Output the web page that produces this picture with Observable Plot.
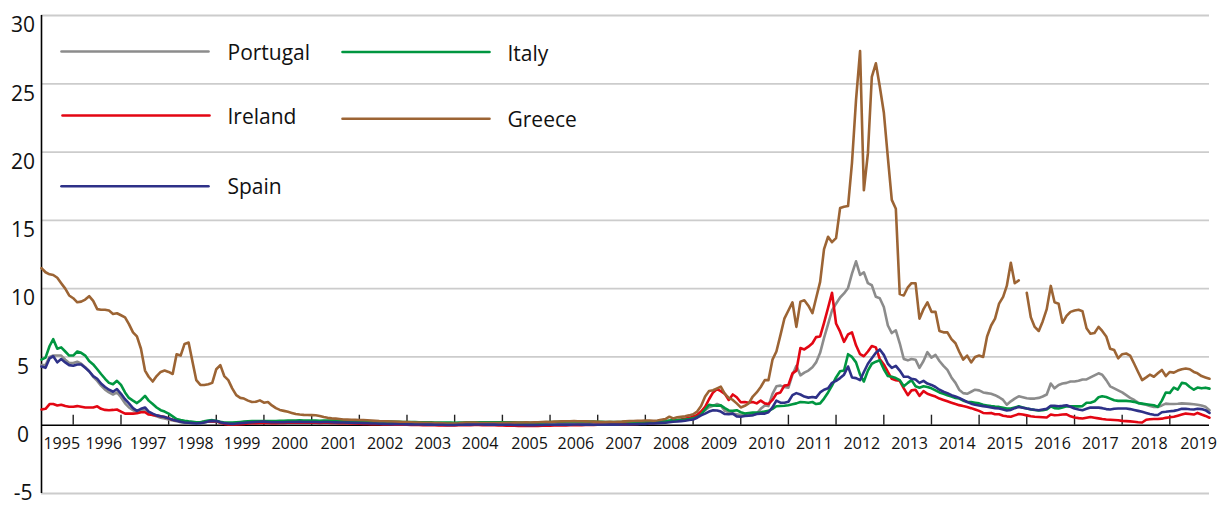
<!DOCTYPE html>
<html>
<head>
<meta charset="utf-8">
<script src="https://cdn.jsdelivr.net/npm/d3@7"></script>
<script src="https://cdn.jsdelivr.net/npm/@observablehq/plot@0.6"></script>
<style>
  html, body { margin: 0; padding: 0; background: #fff; }
  #chart { width: 1228px; height: 509px; }
</style>
</head>
<body>
<div id="chart"></div>
<script>
// Monthly values, Dec 1994 .. Jun 2019 (first value = Dec 1994, then one row per year)
const portugal = [4.4,
  4.4, 5.0, 5.1, 5.1, 5.1, 4.8, 4.55, 4.55, 4.65, 4.5, 4.25, 3.95,
  3.55, 3.25, 2.9, 2.6, 2.4, 2.25, 2.4, 2.05, 1.6, 1.3, 1.1, 0.95,
  1.1, 1.15, 0.9, 0.75, 0.65, 0.55, 0.5, 0.42, 0.35, 0.3, 0.22, 0.18,
  0.15, 0.14, 0.13, 0.15, 0.2, 0.27, 0.3, 0.27, 0.2, 0.14, 0.12, 0.12,
  0.14, 0.17, 0.2, 0.22, 0.24, 0.25, 0.26, 0.27, 0.25, 0.24, 0.24, 0.24,
  0.25, 0.26, 0.27, 0.27, 0.28, 0.27, 0.26, 0.27, 0.26, 0.25, 0.26, 0.27,
  0.26, 0.25, 0.24, 0.24, 0.23, 0.22, 0.21, 0.2, 0.19, 0.18, 0.17, 0.16,
  0.16, 0.15, 0.14, 0.13, 0.13, 0.12, 0.12, 0.11, 0.1, 0.1, 0.09, 0.09,
  0.08, 0.08, 0.07, 0.07, 0.06, 0.06, 0.06, 0.05, 0.06, 0.07, 0.08, 0.08,
  0.09, 0.09, 0.1, 0.1, 0.1, 0.11, 0.11, 0.1, 0.1, 0.11, 0.1, 0.1,
  0.09, 0.09, 0.08, 0.08, 0.09, 0.1, 0.12, 0.13, 0.13, 0.14, 0.15, 0.16,
  0.16, 0.17, 0.17, 0.16, 0.16, 0.15, 0.15, 0.14, 0.14, 0.13, 0.13, 0.13,
  0.13, 0.14, 0.15, 0.16, 0.17, 0.18, 0.19, 0.2, 0.21, 0.22, 0.23, 0.24,
  0.25, 0.3, 0.32, 0.32, 0.35, 0.4, 0.45, 0.5, 0.68, 0.9, 1.1, 1.32,
  1.42, 1.55, 1.45, 1.05, 0.95, 0.85, 0.8, 0.75, 0.73, 0.73, 0.74, 0.85,
  1.2, 1.45, 1.4, 2.3, 2.85, 2.9, 2.8, 2.75, 3.7, 4.35, 3.65, 3.85,
  4.0, 4.25, 4.6, 5.3, 6.4, 7.4, 8.4, 8.9, 9.35, 9.65, 10.05, 11.1,
  12.0, 11.0, 11.2, 10.4, 10.25, 9.4, 9.3, 8.65, 7.3, 6.75, 6.95, 6.0,
  4.85, 4.75, 4.85, 4.8, 4.2, 4.7, 5.35, 4.95, 5.15, 4.7, 4.35, 4.05,
  3.5, 3.1, 2.6, 2.35, 2.3, 2.45, 2.6, 2.55, 2.4, 2.35, 2.3, 2.2,
  2.05, 1.85, 1.5, 1.75, 1.95, 2.12, 2.05, 1.98, 1.95, 1.95, 2.0, 2.1,
  2.25, 3.05, 2.7, 2.95, 3.05, 3.1, 3.2, 3.2, 3.25, 3.35, 3.35, 3.5,
  3.65, 3.8, 3.7, 3.3, 2.85, 2.7, 2.55, 2.4, 2.2, 2.0, 1.85, 1.65,
  1.55, 1.5, 1.4, 1.34, 1.34, 1.45, 1.58, 1.55, 1.55, 1.57, 1.6, 1.58,
  1.56, 1.54, 1.5, 1.45, 1.35, 1.1];

const ireland = [1.15,
  1.2, 1.55, 1.55, 1.45, 1.5, 1.4, 1.35, 1.35, 1.4, 1.35, 1.3, 1.3,
  1.3, 1.38, 1.2, 1.12, 1.1, 1.12, 1.15, 1.0, 0.85, 0.85, 0.85, 0.88,
  0.95, 0.95, 0.78, 0.75, 0.7, 0.65, 0.6, 0.5, 0.4, 0.35, 0.3, 0.25,
  0.22, 0.2, 0.18, 0.2, 0.25, 0.28, 0.3, 0.28, 0.18, 0.1, 0.06, 0.05,
  0.06, 0.08, 0.1, 0.12, 0.15, 0.15, 0.16, 0.17, 0.16, 0.15, 0.15, 0.16,
  0.17, 0.18, 0.18, 0.19, 0.2, 0.19, 0.18, 0.19, 0.18, 0.17, 0.18, 0.18,
  0.17, 0.16, 0.15, 0.15, 0.14, 0.13, 0.12, 0.11, 0.1, 0.09, 0.08, 0.08,
  0.07, 0.06, 0.05, 0.05, 0.04, 0.04, 0.03, 0.03, 0.02, 0.02, 0.02, 0.01,
  0.01, 0.0, 0.0, -0.01, -0.01, -0.02, -0.02, -0.01, 0.0, 0.0, 0.01, 0.01,
  0.02, 0.02, 0.01, 0.01, 0.0, 0.0, -0.01, -0.02, -0.03, -0.03, -0.04, -0.05,
  -0.05, -0.06, -0.06, -0.05, -0.05, -0.04, -0.03, -0.03, -0.02, -0.02, -0.01, -0.01,
  0.0, 0.0, 0.01, 0.01, 0.02, 0.02, 0.02, 0.03, 0.03, 0.03, 0.04, 0.04,
  0.05, 0.05, 0.06, 0.07, 0.08, 0.1, 0.12, 0.14, 0.16, 0.17, 0.18, 0.2,
  0.22, 0.28, 0.33, 0.38, 0.42, 0.48, 0.55, 0.6, 0.75, 1.0, 1.35, 1.9,
  2.4, 2.65, 2.5, 2.3, 1.85, 2.25, 2.05, 1.68, 1.7, 1.65, 1.7, 1.6,
  1.8, 1.6, 1.55, 1.85, 2.3, 2.4, 2.9, 2.95, 3.8, 4.0, 5.65, 5.55,
  5.75, 6.0, 6.45, 6.5, 7.5, 8.6, 9.7, 7.45, 6.85, 6.1, 6.65, 6.8,
  5.85, 5.2, 5.05, 5.4, 5.8, 5.7, 4.85, 4.45, 3.9, 3.4, 3.3, 3.25,
  2.7, 2.2, 2.55, 2.6, 2.15, 2.5, 2.3, 2.2, 2.1, 1.95, 1.85, 1.75,
  1.65, 1.55, 1.47, 1.4, 1.34, 1.25, 1.15, 1.05, 0.9, 0.88, 0.9, 0.8,
  0.8, 0.7, 0.65, 0.62, 0.72, 0.82, 0.78, 0.72, 0.66, 0.62, 0.6, 0.58,
  0.56, 0.78, 0.73, 0.75, 0.78, 0.8, 0.65, 0.56, 0.52, 0.49, 0.55, 0.6,
  0.55, 0.5, 0.45, 0.42, 0.4, 0.38, 0.36, 0.32, 0.3, 0.28, 0.25, 0.22,
  0.2, 0.4, 0.44, 0.46, 0.45, 0.48, 0.54, 0.58, 0.62, 0.7, 0.78, 0.85,
  0.82, 0.78, 0.9, 0.78, 0.68, 0.55];

const italy = [4.8,
  4.95, 5.8, 6.3, 5.6, 5.7, 5.4, 5.1, 5.1, 5.4, 5.3, 5.1, 4.7,
  4.45, 4.1, 3.75, 3.4, 3.1, 3.0, 3.25, 2.95, 2.4, 2.0, 1.8, 1.62,
  1.85, 2.15, 1.8, 1.55, 1.3, 1.1, 1.0, 0.85, 0.65, 0.45, 0.38, 0.32,
  0.28, 0.25, 0.22, 0.22, 0.28, 0.35, 0.37, 0.32, 0.25, 0.2, 0.2, 0.2,
  0.22, 0.24, 0.26, 0.28, 0.3, 0.3, 0.3, 0.3, 0.3, 0.3, 0.3, 0.32,
  0.33, 0.34, 0.35, 0.35, 0.36, 0.35, 0.34, 0.35, 0.34, 0.33, 0.34, 0.35,
  0.35, 0.34, 0.33, 0.33, 0.32, 0.31, 0.3, 0.3, 0.29, 0.29, 0.28, 0.28,
  0.27, 0.27, 0.26, 0.26, 0.25, 0.25, 0.24, 0.24, 0.23, 0.23, 0.22, 0.22,
  0.21, 0.21, 0.2, 0.2, 0.19, 0.19, 0.19, 0.18, 0.19, 0.2, 0.21, 0.21,
  0.22, 0.22, 0.22, 0.21, 0.21, 0.22, 0.22, 0.21, 0.21, 0.22, 0.21, 0.2,
  0.19, 0.19, 0.18, 0.18, 0.19, 0.2, 0.22, 0.23, 0.24, 0.25, 0.26, 0.27,
  0.27, 0.28, 0.28, 0.27, 0.27, 0.26, 0.26, 0.25, 0.25, 0.24, 0.24, 0.24,
  0.24, 0.24, 0.25, 0.25, 0.26, 0.26, 0.27, 0.27, 0.28, 0.28, 0.29, 0.3,
  0.3, 0.35, 0.38, 0.38, 0.4, 0.42, 0.45, 0.5, 0.6, 0.78, 1.15, 1.5,
  1.45, 1.42, 1.45, 1.25, 1.08, 1.05, 1.1, 0.95, 0.85, 0.9, 0.92, 0.93,
  0.95, 1.0, 1.05, 1.2, 1.39, 1.41, 1.43, 1.46, 1.53, 1.6, 1.7, 1.68,
  1.65, 1.7, 1.55, 1.6, 1.95, 2.4, 2.9, 3.5, 3.95, 4.0, 5.2, 5.0,
  4.6, 3.7, 3.2, 4.0, 4.5, 4.65, 4.75, 4.1, 3.6, 3.55, 3.45, 3.3,
  2.85, 3.1, 3.3, 2.85, 2.75, 2.85, 2.8, 2.7, 2.55, 2.4, 2.3, 2.2,
  2.1, 2.0, 1.95, 1.8, 1.72, 1.7, 1.65, 1.6, 1.5, 1.45, 1.4, 1.36,
  1.34, 1.28, 1.22, 1.22, 1.3, 1.38, 1.3, 1.22, 1.16, 1.12, 1.08, 1.1,
  1.15, 1.38, 1.25, 1.22, 1.3, 1.38, 1.38, 1.39, 1.38, 1.4, 1.65, 1.65,
  1.75, 2.05, 2.12, 2.07, 1.95, 1.83, 1.78, 1.78, 1.78, 1.75, 1.71, 1.62,
  1.58, 1.54, 1.5, 1.46, 1.34, 1.8, 2.4, 2.37, 2.76, 2.6, 3.1, 3.05,
  2.8, 2.6, 2.76, 2.7, 2.75, 2.68];

const greece = [11.5,
  11.2, 11.05, 11.0, 10.8, 10.4, 10.0, 9.5, 9.3, 9.0, 9.05, 9.2, 9.45,
  9.1, 8.5, 8.45, 8.45, 8.4, 8.15, 8.2, 8.05, 7.9, 7.4, 6.8, 6.5,
  5.6, 4.0, 3.55, 3.2, 3.6, 3.9, 4.0, 3.9, 3.75, 5.2, 5.1, 5.95,
  6.05, 4.6, 3.3, 2.95, 2.95, 3.0, 3.1, 4.1, 4.4, 3.6, 3.3, 2.7,
  2.2, 2.0, 1.95, 1.8, 1.7, 1.72, 1.82, 1.65, 1.7, 1.45, 1.25, 1.12,
  1.05, 0.98, 0.9, 0.82, 0.78, 0.76, 0.75, 0.74, 0.73, 0.68, 0.6, 0.54,
  0.5, 0.48, 0.45, 0.42, 0.41, 0.4, 0.39, 0.38, 0.37, 0.36, 0.34, 0.32,
  0.3, 0.29, 0.28, 0.27, 0.26, 0.25, 0.24, 0.23, 0.22, 0.2, 0.19, 0.18,
  0.17, 0.17, 0.16, 0.15, 0.14, 0.13, 0.12, 0.12, 0.14, 0.17, 0.19, 0.2,
  0.19, 0.17, 0.16, 0.15, 0.15, 0.16, 0.15, 0.16, 0.17, 0.18, 0.19, 0.2,
  0.2, 0.21, 0.2, 0.21, 0.22, 0.24, 0.25, 0.24, 0.26, 0.27, 0.28, 0.29,
  0.29, 0.3, 0.29, 0.29, 0.28, 0.27, 0.26, 0.25, 0.24, 0.24, 0.25, 0.24,
  0.25, 0.26, 0.28, 0.3, 0.31, 0.32, 0.33, 0.34, 0.35, 0.33, 0.35, 0.4,
  0.45, 0.62, 0.5, 0.58, 0.62, 0.65, 0.72, 0.8, 1.0, 1.4, 2.1, 2.5,
  2.56, 2.7, 2.82, 2.3, 2.0, 1.85, 1.6, 1.3, 1.42, 1.6, 2.1, 2.4,
  2.8, 3.3, 3.3, 4.8, 5.4, 6.6, 7.8, 8.4, 9.0, 7.2, 9.05, 9.15,
  8.75, 8.2, 9.3, 10.5, 12.9, 13.8, 13.4, 13.7, 15.9, 16.0, 16.05, 19.2,
  23.8, 27.4, 17.2, 19.9, 25.5, 26.5, 24.8, 22.9, 19.6, 16.5, 15.85, 9.6,
  9.5, 10.1, 10.4, 10.4, 7.8, 8.5, 9.0, 8.3, 8.3, 6.9, 6.8, 6.8,
  6.3, 6.0, 5.4, 4.8, 5.1, 4.6, 5.0, 5.1, 5.0, 6.5, 7.3, 7.8,
  8.9, 9.4, 10.2, 11.9, 10.4, 10.6, null, 9.7, 7.9, 7.2, 6.9, 7.6,
  8.5, 10.2, 9.0, 8.9, 7.5, 8.0, 8.3, 8.4, 8.45, 8.35, 7.1, 6.7,
  6.75, 7.2, 6.9, 6.5, 5.6, 5.5, 4.9, 5.2, 5.25, 5.1, 4.5, 3.9,
  3.3, 3.5, 3.7, 3.55, 3.8, 4.05, 3.6, 3.9, 3.85, 4.0, 4.1, 4.15,
  4.1, 3.9, 3.8, 3.6, 3.5, 3.4];

const spain = [4.3,
  4.2, 4.9, 5.05, 4.6, 4.85, 4.6, 4.4, 4.35, 4.45, 4.45, 4.2, 3.95,
  3.6, 3.4, 3.05, 2.8, 2.6, 2.45, 2.65, 2.3, 1.9, 1.6, 1.25, 1.05,
  1.2, 1.3, 1.0, 0.85, 0.72, 0.65, 0.6, 0.5, 0.4, 0.33, 0.25, 0.2,
  0.18, 0.15, 0.12, 0.15, 0.2, 0.28, 0.32, 0.3, 0.22, 0.15, 0.12, 0.1,
  0.12, 0.15, 0.17, 0.2, 0.22, 0.24, 0.25, 0.26, 0.24, 0.22, 0.22, 0.22,
  0.22, 0.23, 0.23, 0.24, 0.25, 0.24, 0.23, 0.24, 0.23, 0.22, 0.23, 0.23,
  0.22, 0.21, 0.2, 0.2, 0.19, 0.18, 0.17, 0.16, 0.15, 0.14, 0.13, 0.12,
  0.11, 0.1, 0.09, 0.08, 0.08, 0.07, 0.07, 0.06, 0.06, 0.05, 0.05, 0.05,
  0.04, 0.04, 0.03, 0.03, 0.03, 0.02, 0.02, 0.02, 0.03, 0.03, 0.04, 0.04,
  0.05, 0.05, 0.05, 0.04, 0.04, 0.04, 0.03, 0.03, 0.03, 0.03, 0.02, 0.02,
  0.02, 0.01, 0.01, 0.01, 0.02, 0.02, 0.03, 0.03, 0.03, 0.04, 0.04, 0.04,
  0.04, 0.05, 0.05, 0.04, 0.04, 0.04, 0.03, 0.03, 0.03, 0.03, 0.04, 0.04,
  0.04, 0.05, 0.05, 0.06, 0.07, 0.08, 0.09, 0.1, 0.12, 0.13, 0.15, 0.17,
  0.18, 0.22, 0.25, 0.27, 0.3, 0.33, 0.38, 0.42, 0.55, 0.72, 0.85, 1.0,
  1.1, 1.08, 1.0, 0.82, 0.8, 0.85, 0.65, 0.62, 0.68, 0.7, 0.73, 0.82,
  0.85, 0.85, 0.95, 1.3, 1.8, 1.65, 1.65, 1.72, 2.2, 2.35, 2.25, 2.1,
  2.02, 2.07, 2.02, 2.4, 2.6, 2.7, 3.1, 3.25, 3.45, 3.7, 4.3, 3.5,
  3.45, 3.3, 3.9, 4.5, 4.9, 5.3, 5.55, 5.15, 4.5, 4.2, 4.35, 4.0,
  3.55, 3.55, 3.4, 3.35, 3.1, 3.25, 3.05, 2.95, 2.8, 2.6, 2.45, 2.35,
  2.2, 2.1, 2.0, 1.85, 1.7, 1.58, 1.5, 1.45, 1.4, 1.35, 1.3, 1.25,
  1.22, 1.15, 1.08, 1.12, 1.25, 1.34, 1.28, 1.22, 1.17, 1.13, 1.1, 1.15,
  1.2, 1.42, 1.42, 1.39, 1.42, 1.46, 1.35, 1.22, 1.15, 1.1, 1.2, 1.29,
  1.3, 1.29, 1.25, 1.18, 1.15, 1.2, 1.22, 1.22, 1.22, 1.18, 1.12, 1.05,
  0.98, 0.9, 0.82, 0.76, 0.75, 0.95, 0.98, 1.02, 1.05, 1.12, 1.2, 1.2,
  1.17, 1.15, 1.2, 1.18, 1.1, 0.9];

const yTickValues = [30, 25, 20, 15, 10, 5, 0];
const yBottomTick = [-5];
const yGridValues = [30, 25, 20, 15, 10, 5, -5];
const xLabels = [1995, 1996, 1997, 1998, 1999, 2000, 2001, 2002, 2003, 2004, 2005, 2006,
  2007, 2008, 2009, 2010, 2011, 2012, 2013, 2014, 2015, 2016, 2017, 2018, 2019];
// where each year label is centred (month index, day within that year)
const xLabelAt = [[4, 5], [2, 22], [1, 25], [1, 22], [1, 15], [1, 15], [1, 25], [1, 15], [1, 15], [1, 12], [1, 25], [1, 15],
  [1, 15], [1, 15], [1, 15], [1, 15], [1, 15], [1, 15], [1, 15], [1, 15], [1, 15], [1, 15], [1, 15], [1, 25], [2, 10]];
const xTickYears = [1995, 1996, 1997, 1998, 1999, 2000, 2001, 2002, 2003, 2004, 2005, 2006,
  2007, 2008, 2009, 2010, 2011, 2012, 2013, 2014, 2015, 2016, 2017, 2018];

const colors = {Portugal: "#8c8c8c", Italy: "#009640", Ireland: "#e30613", Greece: "#9c6434", Spain: "#2e3188"};

// drawing order (last on top)
const seriesList = [
  {name: "Portugal", values: portugal},
  {name: "Ireland", values: ireland},
  {name: "Italy", values: italy},
  {name: "Greece", values: greece},
  {name: "Spain", values: spain}
];

// legend entries (layout offsets in px from the top-left of the plot frame)
const legendItems = [
  {name: "Portugal", lx: 20, ly: 36, tx: 186, ty: 38},
  {name: "Italy", lx: 301, ly: 36.5, tx: 466, ty: 39},
  {name: "Ireland", lx: 21, ly: 100, tx: 186, ty: 102},
  {name: "Greece", lx: 301, ly: 103.3, tx: 466, ty: 105},
  {name: "Spain", lx: 20, ly: 170.7, tx: 186, ty: 172}
];

const months = d3.utcMonth.range(new Date(Date.UTC(1994, 11, 1)), new Date(Date.UTC(2019, 6, 1)));
const tickDates = xTickYears.map(y => new Date(Date.UTC(y, 7, 1)));
const labelDates = xLabels.map((y, i) => new Date(Date.UTC(y, xLabelAt[i][0], xLabelAt[i][1])));

const segShape = {draw(context, l) { context.moveTo(0, 0); context.lineTo(0, -l); }};

const lineMarks = seriesList.map(s => Plot.line(s.values, {
  x: (d, i) => months[i], y: d => d,
  stroke: colors[s.name], strokeWidth: 2.6, strokeLinejoin: "round", strokeLinecap: "round"
}));

const legendMarks = legendItems.flatMap(it => [
  Plot.vector([it], {frameAnchor: "top-left", dx: it.lx, dy: it.ly, length: 147, rotate: 90,
    anchor: "start", shape: segShape, stroke: colors[it.name], strokeWidth: 2.6}),
  Plot.text([it], {frameAnchor: "top-left", dx: it.tx, dy: it.ty, text: d => d.name,
    textAnchor: "start", lineAnchor: "middle", fontSize: 21, fill: "#111"})
]);

const chart = Plot.plot({
  width: 1228,
  height: 509,
  marginTop: 15,
  marginBottom: 16,
  marginLeft: 41,
  marginRight: 19,
  x: {type: "utc", domain: [months[0], months[months.length - 1]], axis: null},
  y: {domain: [-5, 30], axis: null},
  style: {fontFamily: "'Open Sans', sans-serif", background: "#fff", color: "#111"},
  marks: [
    Plot.ruleY(yGridValues, {stroke: "#cccccc", strokeWidth: 1.8}),
    Plot.text(yTickValues, {y: d => d, frameAnchor: "left", dx: -18.5, dy: 10,
      text: d => String(d), textAnchor: "middle", lineAnchor: "middle", fontSize: 21, fill: "#111"}),
    Plot.text(yBottomTick, {y: d => d, frameAnchor: "left", dx: -18.5, dy: 0,
      text: d => String(d), textAnchor: "middle", lineAnchor: "middle", fontSize: 21, fill: "#111"}),
    Plot.ruleY([0], {stroke: "#000", strokeWidth: 1.6}),
    Plot.ruleX([months[0]], {stroke: "#000", strokeWidth: 1.6}),
    Plot.ruleX(tickDates, {x: d => d, y1: 0, y2: 0, insetBottom: 10, stroke: "#222", strokeWidth: 1.4}),
    Plot.text(labelDates, {x: d => d, y: 0, dy: 19, text: (d, i) => String(xLabels[i]),
      fontSize: 16, fill: "#111"}),
    ...lineMarks,
    ...legendMarks
  ]
});

document.getElementById("chart").appendChild(chart);
</script>
</body>
</html>
